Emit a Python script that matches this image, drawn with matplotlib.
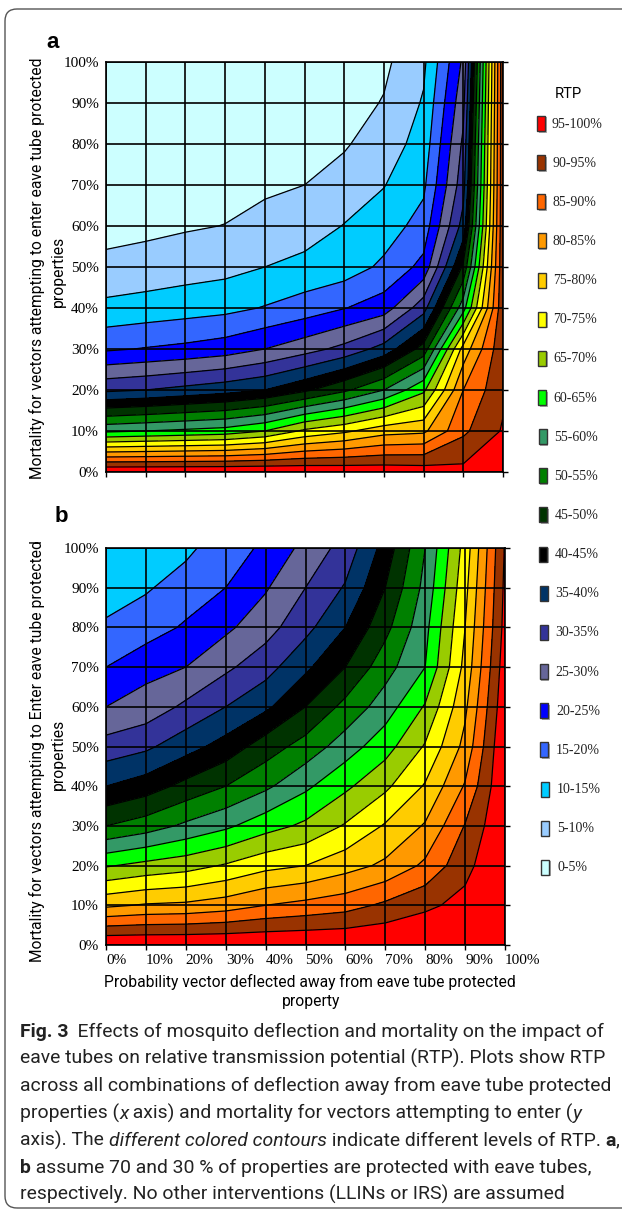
import numpy as np
import matplotlib
matplotlib.use('Agg')
import matplotlib.pyplot as plt
from matplotlib.patches import Rectangle, FancyBboxPatch
from matplotlib.transforms import IdentityTransform

W, H = 622, 1211

# axes grid: deflection (x) and mortality (y), in %
deflection = [0, 10, 20, 30, 40, 50, 60, 70, 80, 90, 100]
mortality = [0, 10, 20, 30, 40, 50, 60, 70, 80, 90, 100]

# RTP (%), one row per mortality level (0% .. 100%)
rtp_a = [
    [100, 100, 100, 100, 100, 99.5, 99, 98.5, 98, 96.5, 100],
    [59, 60, 61, 62, 65, 71, 74, 78, 79, 89, 95.5],
    [34, 35, 36.5, 38, 40, 44, 49, 55, 64, 85, 94],
    [19.3, 20.3, 21.2, 22.5, 25, 28, 31.5, 37, 47, 77, 94],
    [11.2, 12, 12.8, 13.6, 15.3, 17.2, 19.8, 22.5, 33, 58, 94],
    [6.5, 7, 7.8, 8.5, 10, 11.5, 12.5, 16, 21.5, 46, 94],
    [3.0, 3.8, 4.5, 5.1, 6.5, 7.5, 10.2, 12.5, 17, 37, 94],
    [2.0, 2.4, 2.8, 3.3, 4.2, 5.0, 7, 9.8, 14, 33, 94],
    [1.3, 1.6, 1.9, 2.2, 2.8, 3.3, 4.5, 7.5, 12, 31, 94],
    [0.8, 1.0, 1.2, 1.4, 1.8, 2.2, 3.0, 5.3, 10.5, 28.5, 94],
    [0.5, 0.6, 0.8, 0.9, 1.2, 1.5, 2.0, 4, 9, 26, 94],
]

rtp_b = [
    [100, 100, 100, 100, 100, 100, 100, 100, 100, 100, 100],
    [79, 80.5, 81, 82.5, 85, 86.5, 88, 91, 94, 96.5, 100],
    [64.5, 66.5, 68, 70.5, 73.5, 75, 78, 81, 86, 93.5, 100],
    [50, 52.5, 56, 59, 63, 66, 70.5, 75.5, 80.5, 90.3, 100],
    [40, 42.5, 46.5, 50, 54, 59, 64, 69, 75.5, 85.5, 100],
    [32, 34, 38, 42, 47.5, 52, 57.5, 63, 70.5, 81.5, 100],
    [25, 27, 31, 35, 39, 45, 51.5, 57.5, 65.5, 79, 98.8],
    [20, 23.5, 25, 29, 33, 39, 45, 53, 60, 76.5, 97.8],
    [15.8, 17.5, 20.7, 24, 28, 33.5, 40, 48.5, 58.5, 75, 96.7],
    [12.5, 14.5, 17, 20, 24.5, 30, 35.5, 45, 56.5, 73.5, 96.1],
    [10.5, 12, 14, 17.5, 21, 26.5, 32, 42, 55, 72, 95.5],
]

rtp_levels = list(range(0, 105, 5))
band_labels = ['0-5%', '5-10%', '10-15%', '15-20%', '20-25%', '25-30%', '30-35%',
               '35-40%', '40-45%', '45-50%', '50-55%', '55-60%', '60-65%', '65-70%',
               '70-75%', '75-80%', '80-85%', '85-90%', '90-95%', '95-100%']
band_colors = ['#CCFFFF', '#99CCFF', '#00CCFF', '#3366FF', '#0000FF', '#666699', '#333399',
               '#003366', '#000000', '#003300', '#008000', '#339966', '#00FF00', '#99CC00',
               '#FFFF00', '#FFCC00', '#FF9900', '#FF6600', '#993300', '#FF0000']
tick_labels = ['0%', '10%', '20%', '30%', '40%', '50%', '60%', '70%', '80%', '90%', '100%']

SANS = 'Roboto'
SERIF = 'Liberation Serif'

# tick labels and legend entries are Times-like in the original
plt.rcParams['font.family'] = 'serif'
plt.rcParams['font.serif'] = [SERIF, 'DejaVu Serif']

fig = plt.figure(figsize=(W / 100, H / 100), dpi=100)
renderer = fig.canvas.get_renderer()


def fx(px):
    return px / W


def fy(py):
    return 1 - py / H


def fit(t, length):
    # scale font so the text spans `length` pixels
    bb = t.get_window_extent(renderer)
    t.set_fontsize(t.get_fontsize() * length / max(bb.width, bb.height))
    return t.get_fontsize()


def draw_panel(rect, z, show_x):
    left, top, right, bottom = rect
    ax = fig.add_axes([fx(left), fy(bottom), (right - left) / W, (bottom - top) / H])
    X, Y = np.meshgrid(deflection, mortality)
    Z = np.array(z)
    ax.contourf(X, Y, Z, levels=rtp_levels, colors=band_colors)
    ax.contour(X, Y, Z, levels=rtp_levels[1:-1], colors='k', linewidths=0.9)
    ax.set_xlim(0, 100)
    ax.set_ylim(0, 100)
    ax.set_xticks(deflection, tick_labels)
    ax.set_yticks(mortality, tick_labels)
    ax.grid(True, color='k', lw=1.2)
    ax.set_axisbelow(False)
    for s in ax.spines.values():
        s.set_linewidth(1.2)
    ax.tick_params(axis='y', left=False, right=True, labelleft=True, labelright=False,
                   length=3.6, width=1, direction='out', pad=1.5, labelsize=11)
    ax.tick_params(axis='x', bottom=True, top=False, length=3.6, width=1,
                   direction='out', pad=3, labelbottom=show_x, labelsize=11)
    for lbl in ax.get_xticklabels():
        lbl.set_horizontalalignment('left')
        lbl.set_fontfamily(SERIF)
    for lbl in ax.get_yticklabels():
        lbl.set_fontfamily(SERIF)
    return ax


ax_a = draw_panel((106, 62, 503, 472), rtp_a, False)
ax_b = draw_panel((106, 548, 505, 945), rtp_b, True)

# panel letters
fig.text(fx(53), fy(42), 'a', family='Liberation Sans', weight='bold', fontsize=16,
         ha='center', va='center')
fig.text(fx(61), fy(516), 'b', family='Liberation Sans', weight='bold', fontsize=16,
         ha='center', va='center')

# y axis labels
for yc, word in [(268, 'enter'), (751, 'Enter')]:
    t1 = fig.text(fx(37), fy(yc), f'Mortality for vectors attempting to {word} eave tube protected',
                  family=SANS, fontsize=10, rotation=90, ha='center', va='center')
    size = fit(t1, 421)
    fig.text(fx(58), fy(yc + 3), 'properties', family=SANS, fontsize=size, rotation=90,
             ha='center', va='center')

# x axis label
t = fig.text(fx(310), fy(987), 'Probability vector deflected away from eave tube protected',
             family=SANS, fontsize=10, ha='center', va='baseline')
size = fit(t, 409)
fig.text(fx(311), fy(1006), 'property', family=SANS, fontsize=size, ha='center', va='baseline')

# legend
t = fig.text(fx(568), fy(94), 'RTP', family=SANS, fontsize=10, ha='center', va='center')
fit(t, 27)
n = len(band_labels)
for k in range(n):
    idx = n - 1 - k
    yc = 124 + 39.15 * k
    x0 = 537 + 4 * k / (n - 1)
    fig.add_artist(Rectangle((fx(x0 + 1.5), fy(yc + 8.5)), 8 / W, 15 / H, transform=fig.transFigure,
                             facecolor='#aaaaaa', edgecolor='none'))
    fig.add_artist(Rectangle((fx(x0), fy(yc + 7)), 8 / W, 15 / H, transform=fig.transFigure,
                             facecolor=band_colors[idx], edgecolor='#333333', lw=1))
    fig.text(fx(552 + 5 * k / (n - 1)), fy(yc), band_labels[idx], family=SERIF, fontsize=10,
             ha='left', va='center', color='#222222')

# caption
caption = [
    [('Fig. 3', {'weight': 'bold'}), ('  Effects of mosquito deflection and mortality on the impact of', {})],
    [('eave tubes on relative transmission potential (RTP). Plots show RTP', {})],
    [('across all combinations of deflection away from eave tube protected', {})],
    [('properties (', {}), ('x', {'style': 'italic'}),
     (' axis) and mortality for vectors attempting to enter (', {}), ('y', {'style': 'italic'})],
    [('axis). The ', {}), ('different colored contours', {'style': 'italic'}),
     (' indicate different levels of RTP. ', {}), ('a', {'weight': 'bold'}), (',', {})],
    [('b', {'weight': 'bold'}), (' assume 70 and 30 % of properties are protected with eave tubes,', {})],
    [('respectively. No other interventions (LLINs or IRS) are assumed', {})],
]
probe = fig.text(0, 0, caption[2][0][0], family=SANS, fontsize=12)
cap_size = fit(probe, 588)
probe.remove()
for i, parts in enumerate(caption):
    x = 20
    yb = 1037 + 27.2 * i
    for s, kw in parts:
        tt = fig.text(fx(x), fy(yb), s, family=SANS, fontsize=cap_size, ha='left',
                      va='baseline', color='#222222', **kw)
        x += tt.get_window_extent(renderer).width

# rounded frame around the figure
frame = FancyBboxPatch((5, 3), 650, 1199, boxstyle='round,pad=0,rounding_size=12',
                       facecolor='none', edgecolor='#555555', lw=1)
fig.add_artist(frame)
frame.set_transform(IdentityTransform())

fig.savefig('out.png', dpi=100)
